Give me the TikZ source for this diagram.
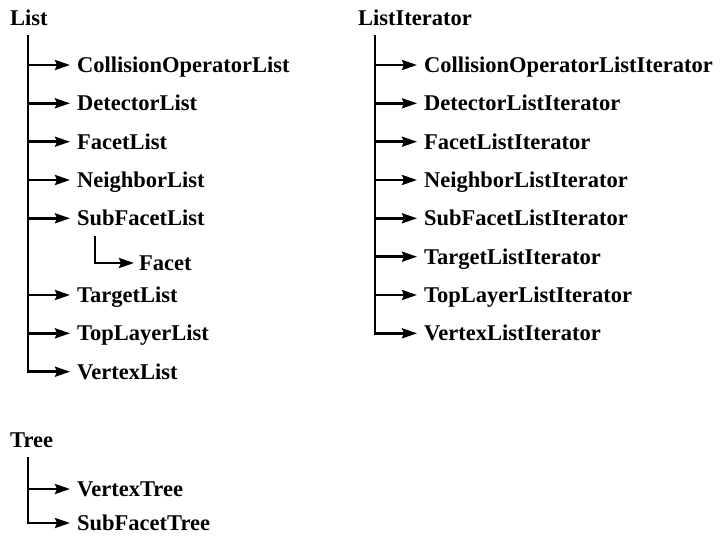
\documentclass[tikz,border=0pt]{standalone}
\usepackage{fontspec}
\setmainfont{Liberation Serif}
\usetikzlibrary{arrows.meta}
\begin{document}
\begin{tikzpicture}[x=1pt,y=-1pt,
  cls/.style={anchor=west,inner sep=0pt,text height=15pt,text depth=0pt,
    font=\fontsize{22.5}{26}\selectfont\bfseries},
  br/.style={line width=2.5pt,-{Stealth[length=15pt,width=10pt,inset=2pt]},
    shorten >=7pt}]
\useasboundingbox (0,0) rectangle (722,536);

% ---- List and its subclasses ----
\node[cls] (list) at (10,18) {List};
\coordinate (lt) at (28,35);
\node[cls] (l1) at (77,65)    {CollisionOperatorList};
\node[cls] (l2) at (77,103.3) {DetectorList};
\node[cls] (l3) at (77,141.7) {FacetList};
\node[cls] (l4) at (77,180)   {NeighborList};
\node[cls] (l5) at (77,218.3) {SubFacetList};
\node[cls] (l6) at (139,263)  {Facet};
\node[cls] (l7) at (77,295)   {TargetList};
\node[cls] (l8) at (77,333.3) {TopLayerList};
\node[cls] (l9) at (77,371.7) {VertexList};
\foreach \n in {l1,l2,l3,l4,l5,l7,l8,l9}
  \draw[br] (lt) |- (\n);
\coordinate (sf) at (95,236);
\draw[br,shorten >=5pt] (sf) |- (l6);

% ---- ListIterator and its subclasses ----
\node[cls] (it) at (358,18) {ListIterator};
\coordinate (it0) at (375,35);
\node[cls] (i1) at (424,65)    {CollisionOperatorListIterator};
\node[cls] (i2) at (424,103.3) {DetectorListIterator};
\node[cls] (i3) at (424,141.7) {FacetListIterator};
\node[cls] (i4) at (424,180)   {NeighborListIterator};
\node[cls] (i5) at (424,218.3) {SubFacetListIterator};
\node[cls] (i6) at (424,256.7) {TargetListIterator};
\node[cls] (i7) at (424,295)   {TopLayerListIterator};
\node[cls] (i8) at (424,333.3) {VertexListIterator};
\foreach \n in {i1,i2,i3,i4,i5,i6,i7,i8}
  \draw[br] (it0) |- (\n);

% ---- Tree and its subclasses ----
\node[cls] (tree) at (10,440) {Tree};
\coordinate (tt) at (28,457);
\node[cls] (t1) at (77,489) {VertexTree};
\node[cls] (t2) at (77,523) {SubFacetTree};
\foreach \n in {t1,t2}
  \draw[br] (tt) |- (\n);
\end{tikzpicture}
\end{document}
